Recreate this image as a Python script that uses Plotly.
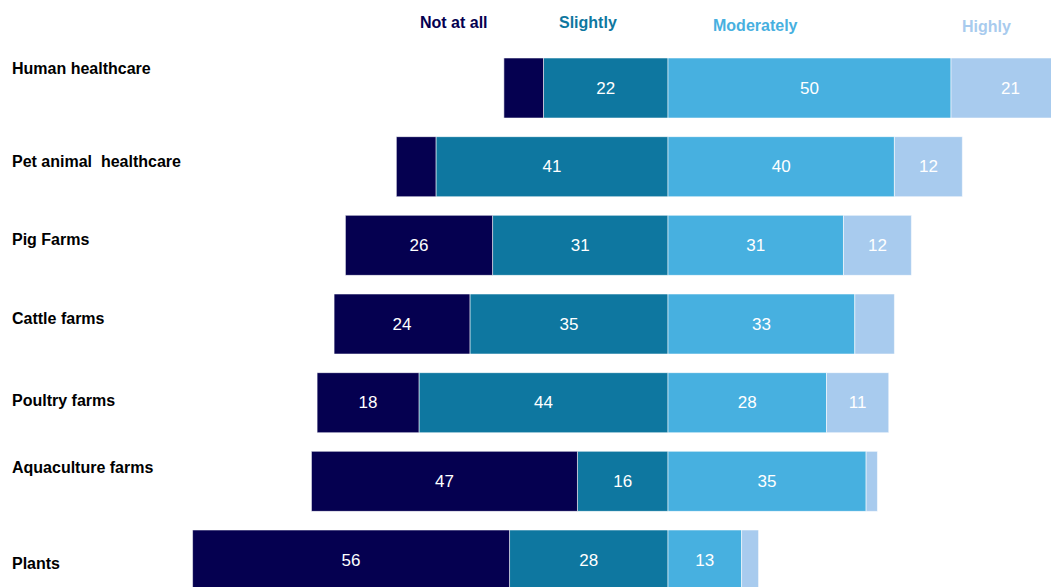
import plotly.graph_objects as go

categories = ["Human healthcare", "Pet animal  healthcare", "Pig Farms", "Cattle farms",
              "Poultry farms", "Aquaculture farms", "Plants"]
not_at_all = [7, 7, 26, 24, 18, 47, 56]
slightly = [22, 41, 31, 35, 44, 16, 28]
moderately = [50, 40, 31, 33, 28, 35, 13]
highly = [21, 12, 12, 7, 11, 2, 3]
series_names = ["Not at all", "Slightly", "Moderately", "Highly"]

colors = {"Not at all": "#050050", "Slightly": "#0e77a0",
          "Moderately": "#47b0e0", "Highly": "#a8cbee"}

# layout-only offsets for category labels (pixels)
label_shift = [20, 5, 6, 6, 2, 14, -3]
header_x = {"Not at all": -37.8, "Slightly": -14.1, "Moderately": 15.5, "Highly": 56.2}
header_y = {"Not at all": 22, "Slightly": 22, "Moderately": 25, "Highly": 26}

def lbl(vals):
    return [str(v) if v >= 10 else "" for v in vals]

fig = go.Figure()
order = [("Slightly", slightly, -1), ("Not at all", not_at_all, -1),
         ("Moderately", moderately, 1), ("Highly", highly, 1)]
for name, vals, sign in order:
    fig.add_trace(go.Bar(
        y=categories, x=[sign * v for v in vals], orientation="h", name=name,
        marker=dict(color=colors[name], line=dict(color="rgba(255,255,255,0.55)", width=1)),
        text=lbl(vals), textposition="inside", insidetextanchor="middle",
        textfont=dict(color="white", size=17, family="Liberation Sans, Arial"),
        width=0.763, showlegend=False, hoverinfo="skip"))

OFF = 8  # page body margin
W, H = 1059, 587 - OFF
fig.update_layout(
    width=W, height=H, barmode="relative",
    margin=dict(l=0, r=0, t=0, b=0),
    plot_bgcolor="white", paper_bgcolor="white",
    xaxis=dict(range=[-116.61, 70.49], visible=False, fixedrange=True),
    yaxis=dict(range=[6.343, -1.017], visible=False, categoryorder="array",
               categoryarray=categories),
)

lab_font = dict(family="Liberation Sans, Arial, sans-serif", size=16)
for cat, sh in zip(categories, label_shift):
    fig.add_annotation(text="<b>%s</b>" % cat, xref="paper", x=(10 - OFF) / W, xanchor="left",
                       yref="y", y=cat, yshift=sh, showarrow=False,
                       font=dict(color="#000000", **lab_font))
for name in series_names:
    fig.add_annotation(text="<b>%s</b>" % name, xref="x", x=header_x[name], xanchor="center",
                       yref="paper", y=1 - (header_y[name] - OFF) / H, yanchor="middle",
                       showarrow=False, font=dict(color=colors[name], **lab_font))

fig.write_html("out.html")
